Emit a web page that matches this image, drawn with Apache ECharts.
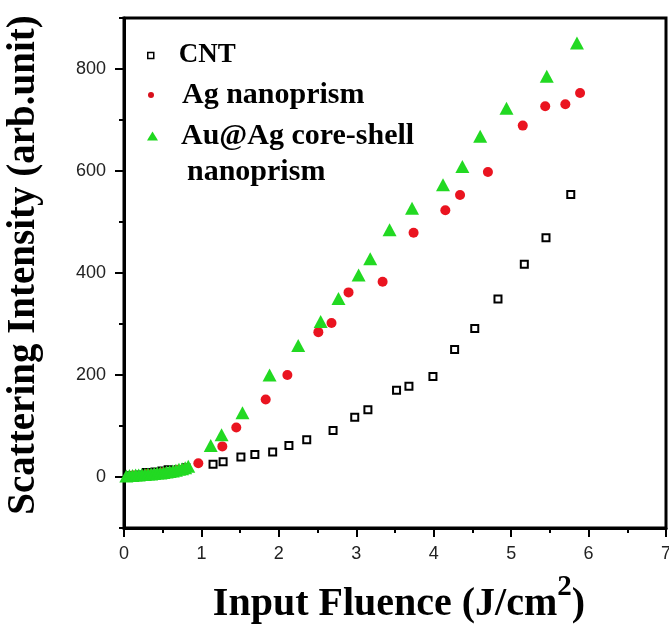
<!DOCTYPE html>
<html>
<head>
<meta charset="utf-8">
<script src="https://cdn.jsdelivr.net/npm/echarts@6/dist/echarts.min.js"></script>
<style>
  html, body { margin: 0; padding: 0; background: #fff; }
  #chart { width: 669px; height: 627px; }
</style>
</head>
<body>
<div id="chart"></div>
<script>
// Scattering intensity versus input fluence for three samples
const cntX = [0.10, 0.20, 0.29, 0.40, 0.49, 0.57, 0.70, 0.80, 1.15, 1.28, 1.51, 1.69, 1.92, 2.13, 2.36, 2.70, 2.98, 3.15, 3.52, 3.68, 3.99, 4.27, 4.53, 4.83, 5.17, 5.45, 5.77];
const cntY = [3, 4, 9, 10, 12, 14, 14, 18, 25, 30, 39, 44, 49, 62, 73, 91, 117, 132, 170, 178, 197, 250, 291, 349, 417, 469, 554];

const agX = [0.12, 0.30, 0.50, 0.70, 0.80, 0.96, 1.27, 1.45, 1.83, 2.11, 2.51, 2.68, 2.90, 3.34, 3.74, 4.15, 4.34, 4.70, 5.15, 5.44, 5.70, 5.89];
const agY = [3, 6, 9, 14, 17, 27, 60, 97, 152, 200, 284, 302, 362, 383, 479, 523, 553, 598, 689, 727, 731, 753];

const auX = [0.03, 0.07, 0.11, 0.15, 0.19, 0.23, 0.27, 0.31, 0.35, 0.39, 0.43, 0.47, 0.51, 0.55, 0.59, 0.63, 0.67, 0.71, 0.75, 0.79, 0.83, 1.12, 1.26, 1.53, 1.88, 2.25, 2.54, 2.77, 3.03, 3.18, 3.43, 3.72, 4.12, 4.37, 4.60, 4.94, 5.46, 5.85];
const auY = [2, 3, 3, 4, 4, 5, 5, 6, 6, 7, 8, 8, 9, 10, 11, 12, 13, 15, 16, 18, 21, 62, 83, 126, 200, 258, 305, 350, 396, 428, 485, 527, 573, 609, 668, 723, 786, 851];

const seriesNames = ['CNT', 'Ag nanoprism', 'Au@Ag core-shell nanoprism'];
const yMajorTicks = [0, 200, 400, 600, 800];
const yMinorTicks = [-100, 100, 300, 500, 700, 900];

const zip = (xs, ys) => xs.map((x, i) => [x, ys[i]]);

const serif = 'Liberation Serif';
const sans = 'Liberation Sans';
const legendText = (size, pad) => ({
  fontFamily: serif, fontWeight: 'bold', fontSize: size, color: '#000',
  padding: [0, 0, 0, pad]
});

const chart = echarts.init(document.getElementById('chart'), null, { renderer: 'canvas' });

chart.setOption({
  animation: false,
  backgroundColor: '#fff',
  grid: {
    left: 124, right: 3, top: 18, bottom: 99,
    outerBoundsMode: 'none',
    show: true, borderColor: '#000', borderWidth: 3, backgroundColor: 'transparent'
  },
  xAxis: {
    type: 'value', min: 0, max: 7, interval: 1,
    axisLine: { onZero: false, lineStyle: { color: '#000', width: 3 } },
    axisTick: { length: 9, lineStyle: { color: '#000', width: 2 } },
    minorTick: { show: true, splitNumber: 2, length: 5, lineStyle: { color: '#000', width: 2 } },
    splitLine: { show: false },
    axisLabel: { margin: 17, fontFamily: sans, fontSize: 18, color: '#222' },
    name: '{a|Input Fluence (J/cm}{s|2}{a|)}',
    nameLocation: 'middle',
    nameGap: 57,
    nameTextStyle: {
      padding: [0, 0, 0, 8],
      rich: {
        a: { fontFamily: serif, fontWeight: 'bold', fontSize: 40, lineHeight: 40, color: '#000', verticalAlign: 'bottom' },
        s: { fontFamily: serif, fontWeight: 'bold', fontSize: 29, lineHeight: 29, color: '#000', verticalAlign: 'bottom', padding: [0, 0, 23, 0] }
      }
    }
  },
  yAxis: [
    {
      type: 'value', min: -100, max: 900, interval: 100, position: 'left',
      axisLine: { onZero: false, lineStyle: { color: '#000', width: 3 } },
      axisTick: { customValues: yMajorTicks, length: 9, lineStyle: { color: '#000', width: 2 } },
      splitLine: { show: false },
      axisLabel: { customValues: yMajorTicks, margin: 18, fontFamily: sans, fontSize: 18, color: '#222' },
      name: 'Scattering Intensity (arb.unit)',
      nameLocation: 'middle',
      nameGap: 81,
      nameTextStyle: { fontFamily: serif, fontWeight: 'bold', fontSize: 39, color: '#000', padding: [0, 0, 0, 16] }
    },
    {
      type: 'value', min: -100, max: 900, interval: 100, position: 'left', offset: 0,
      axisLine: { show: false },
      axisTick: { customValues: yMinorTicks, length: 5, lineStyle: { color: '#000', width: 2 } },
      axisLabel: { show: false },
      splitLine: { show: false }
    }
  ],
  legend: [
    {
      data: [{ name: seriesNames[0], icon: 'rect', itemStyle: { color: '#fff', borderColor: '#000', borderWidth: 1.5 } }],
      left: 147, top: 42, padding: 0, itemWidth: 6, itemHeight: 6,
      selectedMode: false, textStyle: legendText(27, 20)
    },
    {
      data: [{ name: seriesNames[1], icon: 'circle', itemStyle: { color: '#d8101c' } }],
      left: 148, top: 80, padding: 0, itemWidth: 6, itemHeight: 6,
      selectedMode: false, textStyle: legendText(30, 23)
    },
    {
      data: [{ name: seriesNames[2], icon: 'triangle', itemStyle: { color: '#1ed81e' } }],
      left: 147, top: 121, padding: 0, itemWidth: 11, itemHeight: 9,
      selectedMode: false, textStyle: legendText(30, 18),
      formatter: () => 'Au@Ag core-shell'
    }
  ],
  graphic: [
    {
      type: 'text', left: 187, top: 157,
      style: { text: 'nanoprism', font: 'bold 30px "Liberation Serif"', fill: '#000' }
    }
  ],
  series: [
    {
      name: seriesNames[0], type: 'scatter', yAxisIndex: 0,
      symbol: 'rect', symbolSize: 7,
      itemStyle: { color: '#fff', borderColor: '#000', borderWidth: 2, opacity: 1 },
      data: zip(cntX, cntY)
    },
    {
      name: seriesNames[1], type: 'scatter', yAxisIndex: 0,
      symbol: 'circle', symbolSize: 10,
      itemStyle: { color: '#ea1420', opacity: 1 },
      data: zip(agX, agY)
    },
    {
      name: seriesNames[2], type: 'scatter', yAxisIndex: 0,
      symbol: 'triangle', symbolSize: [14, 13],
      itemStyle: { color: '#22d922', opacity: 1 },
      data: zip(auX, auY)
    }
  ]
});
</script>
</body>
</html>
